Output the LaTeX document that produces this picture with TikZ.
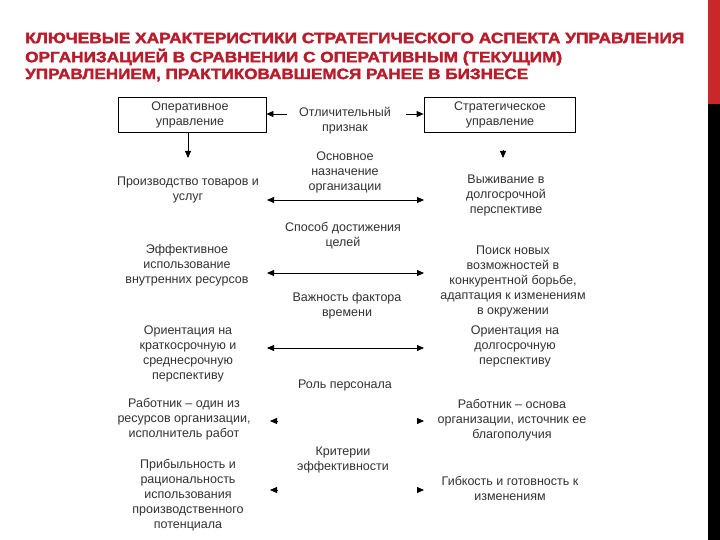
\documentclass[tikz,border=0pt]{standalone}
\usepackage{fontspec}
\setmainfont{Liberation Sans}
\newfontfamily\titlefont[FakeBold=2]{Liberation Sans Bold}
\usetikzlibrary{arrows.meta}
\definecolor{titlered}{RGB}{185,28,42}
\definecolor{barred}{RGB}{200,40,42}
\definecolor{txt}{RGB}{50,50,50}
\begin{document}
\begin{tikzpicture}[x=1pt,y=-1pt,
  lbl/.style={align=center,text=txt,font=\fontsize{12.5}{15}\selectfont,inner sep=0pt},
  hdr/.style={draw=black,line width=0.8pt,minimum width=148pt,minimum height=35pt,inner sep=0pt},
  arr/.style={line width=0.8pt,-{Triangle[length=7pt,width=6pt]}},
  darr/.style={line width=0.8pt,{Triangle[length=7pt,width=6pt]}-{Triangle[length=7pt,width=6pt]}},
  tline/.style={anchor=west,inner sep=0pt,text=titlered,font=\titlefont\fontsize{15}{17}\selectfont}]
\useasboundingbox (0,0) rectangle (720,540);
\fill[white] (0,0) rectangle (720,540);
% right bar
\fill[barred] (708,0) rectangle (720,104);
\fill[black] (708,104) rectangle (720,540);
% title
\node[tline] (t1) at (25,38) {\resizebox{659pt}{\height}{КЛЮЧЕВЫЕ ХАРАКТЕРИСТИКИ СТРАТЕГИЧЕСКОГО АСПЕКТА УПРАВЛЕНИЯ}};
\node[tline] (t2) at (25,57) {\resizebox{537pt}{\height}{ОРГАНИЗАЦИЕЙ В СРАВНЕНИИ С ОПЕРАТИВНЫМ (ТЕКУЩИМ)}};
\node[tline] (t3) at (25,75) {\resizebox{503pt}{\height}{УПРАВЛЕНИЕМ, ПРАКТИКОВАВШЕМСЯ РАНЕЕ В БИЗНЕСЕ}};
% header boxes
\node[hdr] (opbox) at (192,114.5) {};
\node[lbl] (optext) at (190,115) {Оперативное\\управление};
\node[hdr,minimum width=151pt] (stbox) at (499.5,114.5) {};
\node[lbl] (sttext) at (500,115) {Стратегическое\\управление};
\node[lbl] (feat) at (345,121) {Отличительный\\признак};
% left column
\node[lbl] (l1) at (188,190) {Производство товаров и\\услуг};
\node[lbl] (l2) at (187,265) {Эффективное\\использование\\внутренних ресурсов};
\node[lbl] (l3) at (188,354) {Ориентация на\\краткосрочную и\\среднесрочную\\перспективу};
\node[lbl] (l4) at (184,419) {Работник – один из\\ресурсов организации,\\исполнитель работ};
\node[lbl] (l5) at (188,495) {Прибыльность и\\рациональность\\использования\\производственного\\потенциала};
% middle column
\node[lbl] (m1) at (345,172) {Основное\\назначение\\организации};
\node[lbl] (m2) at (343,236) {Способ достижения\\целей};
\node[lbl] (m3) at (347,306) {Важность фактора\\времени};
\node[lbl] (m4) at (345,385) {Роль персонала};
\node[lbl] (m5) at (343,460) {Критерии\\эффективности};
% right column
\node[lbl] (r1) at (506,195) {Выживание в\\долгосрочной\\перспективе};
\node[lbl] (r2) at (513,281) {Поиск новых\\возможностей в\\конкурентной борьбе,\\адаптация к изменениям\\в окружении};
\node[lbl] (r3) at (515,346) {Ориентация на\\долгосрочную\\перспективу};
\node[lbl] (r4) at (512,420) {Работник – основа\\организации, источник ее\\благополучия};
\node[lbl] (r5) at (510,488) {Гибкость и готовность к\\изменениям};
% coordinates
\coordinate (fl) at (287,114);
\coordinate (fr) at (406,114);
\coordinate (dl0) at (188,132);
\coordinate (dl1) at (188,158);
\coordinate (dr0) at (503,150);
\coordinate (dr1) at (503,158);
\coordinate (a1l) at (267,200); \coordinate (a1r) at (424,200);
\coordinate (a2l) at (267,273); \coordinate (a2r) at (424,273);
\coordinate (a3l) at (267,348); \coordinate (a3r) at (424,348);
\coordinate (h4l0) at (277,421); \coordinate (h4l) at (270,421);
\coordinate (h4r0) at (417,421); \coordinate (h4r) at (424,421);
\coordinate (h5l0) at (277,490); \coordinate (h5l) at (270,490);
\coordinate (h5r0) at (417,490); \coordinate (h5r) at (424,490);
% connectors
\draw[arr] (fl) -- (opbox.east |- fl);
\draw[arr] (fr) -- (stbox.west |- fr);
\draw[arr] (dl0) -- (dl1);
\draw[arr] (dr0) -- (dr1);
\draw[darr] (a1l) -- (a1r);
\draw[darr] (a2l) -- (a2r);
\draw[darr] (a3l) -- (a3r);
\draw[arr,shorten <=0.5pt] (h4l0) -- (h4l);
\draw[arr,shorten <=0.5pt] (h4r0) -- (h4r);
\draw[arr,shorten <=0.5pt] (h5l0) -- (h5l);
\draw[arr,shorten <=0.5pt] (h5r0) -- (h5r);
\end{tikzpicture}
\end{document}
